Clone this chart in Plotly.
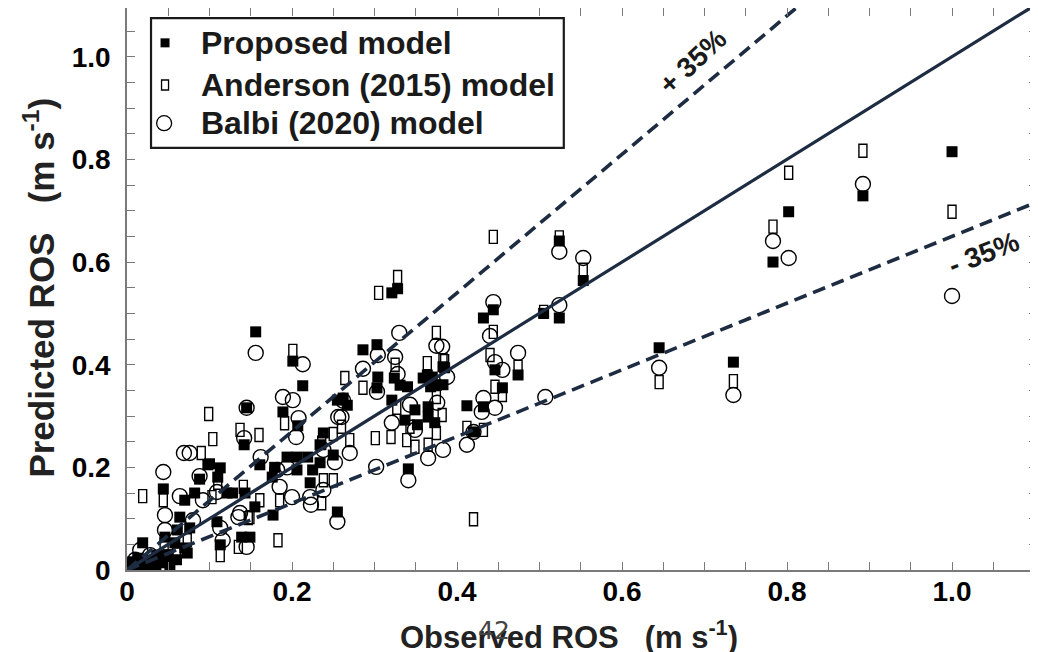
import plotly.graph_objects as go

# ---------------- data ----------------
proposed_obs = [1.000, 0.892, 0.802, 0.783, 0.735, 0.645, 0.524, 0.553, 0.524, 0.505,
                0.444, 0.432, 0.474, 0.446, 0.455, 0.412, 0.432, 0.383, 0.383, 0.420,
                0.328, 0.321, 0.303, 0.286, 0.385, 0.364, 0.304, 0.303, 0.324, 0.331,
                0.340, 0.375, 0.368, 0.359, 0.370, 0.321, 0.349, 0.365, 0.365, 0.337,
                0.352, 0.373, 0.262, 0.267, 0.250, 0.341, 0.156, 0.201, 0.213, 0.189,
                0.207, 0.145, 0.142, 0.161, 0.100, 0.113, 0.088, 0.110, 0.194, 0.206,
                0.219, 0.238, 0.234, 0.255, 0.179, 0.206, 0.176, 0.225, 0.222, 0.234,
                0.128, 0.143, 0.082, 0.177, 0.255, 0.044, 0.070, 0.098, 0.046, 0.064,
                0.076, 0.061, 0.058, 0.073, 0.070, 0.019, 0.007, 0.013, 0.030, 0.036,
                0.042, 0.052, 0.025, 0.113, 0.139, 0.149, 0.109, 0.121, 0.155, 0.004,
                0.015, 0.035, 0.050, 0.060]
proposed_pred = [0.815, 0.729, 0.698, 0.600, 0.405, 0.433, 0.641, 0.564, 0.491, 0.500,
                 0.507, 0.491, 0.380, 0.390, 0.355, 0.320, 0.318, 0.396, 0.361, 0.269,
                 0.548, 0.540, 0.439, 0.429, 0.394, 0.380, 0.376, 0.355, 0.374, 0.360,
                 0.357, 0.360, 0.357, 0.374, 0.376, 0.331, 0.312, 0.318, 0.298, 0.292,
                 0.283, 0.287, 0.335, 0.321, 0.224, 0.197, 0.464, 0.407, 0.359, 0.308,
                 0.281, 0.316, 0.244, 0.205, 0.207, 0.199, 0.177, 0.181, 0.220, 0.220,
                 0.220, 0.267, 0.244, 0.331, 0.200, 0.195, 0.181, 0.195, 0.170, 0.209,
                 0.150, 0.150, 0.150, 0.107, 0.113, 0.158, 0.136, 0.205, 0.064, 0.103,
                 0.082, 0.078, 0.053, 0.033, 0.043, 0.053, 0.016, 0.023, 0.019, 0.029,
                 0.014, 0.010, 0.010, 0.049, 0.064, 0.064, 0.094, 0.150, 0.123, 0.005,
                 0.004, 0.006, 0.030, 0.020]

anderson_obs = [1.000, 0.892, 0.802, 0.783, 0.735, 0.645, 0.553, 0.505, 0.524, 0.444,
                0.444, 0.474, 0.440, 0.446, 0.455, 0.412, 0.432, 0.383, 0.420, 0.328,
                0.305, 0.375, 0.325, 0.364, 0.385, 0.264, 0.286, 0.375, 0.327, 0.382,
                0.343, 0.375, 0.301, 0.320, 0.339, 0.349, 0.365, 0.260, 0.270, 0.250,
                0.201, 0.191, 0.099, 0.137, 0.160, 0.104, 0.090, 0.238, 0.250, 0.185,
                0.161, 0.149, 0.236, 0.236, 0.019, 0.044, 0.073, 0.048, 0.113, 0.135,
                0.147, 0.103, 0.141, 0.183, 0.110, 0.010, 0.030, 0.060, 0.045]
anderson_pred = [0.698, 0.817, 0.774, 0.669, 0.368, 0.366, 0.585, 0.503, 0.648, 0.649,
                 0.464, 0.396, 0.419, 0.357, 0.341, 0.277, 0.273, 0.409, 0.099, 0.571,
                 0.540, 0.462, 0.400, 0.403, 0.407, 0.374, 0.355, 0.337, 0.316, 0.302,
                 0.279, 0.267, 0.257, 0.259, 0.253, 0.240, 0.244, 0.279, 0.253, 0.265,
                 0.427, 0.286, 0.304, 0.273, 0.263, 0.255, 0.228, 0.175, 0.175, 0.136,
                 0.136, 0.103, 0.130, 0.248, 0.144, 0.136, 0.058, 0.025, 0.029, 0.045,
                 0.101, 0.142, 0.162, 0.058, 0.170, 0.008, 0.012, 0.030, 0.050]

balbi_obs = [1.000, 0.892, 0.802, 0.783, 0.735, 0.645, 0.524, 0.553, 0.524, 0.507,
             0.444, 0.440, 0.474, 0.446, 0.455, 0.432, 0.430, 0.446, 0.420, 0.412,
             0.382, 0.388, 0.375, 0.330, 0.304, 0.325, 0.286, 0.328, 0.303, 0.376,
             0.343, 0.365, 0.383, 0.270, 0.262, 0.260, 0.252, 0.302, 0.341, 0.321,
             0.349, 0.156, 0.213, 0.189, 0.201, 0.208, 0.205, 0.145, 0.142, 0.076,
             0.162, 0.088, 0.256, 0.182, 0.222, 0.238, 0.185, 0.200, 0.137, 0.223,
             0.255, 0.069, 0.044, 0.064, 0.046, 0.046, 0.080, 0.016, 0.028, 0.019,
             0.116, 0.145, 0.135, 0.113, 0.092, 0.109, 0.194, 0.238, 0.004, 0.010]
balbi_pred = [0.534, 0.752, 0.608, 0.641, 0.341, 0.394, 0.620, 0.608, 0.516, 0.337,
              0.522, 0.456, 0.423, 0.405, 0.390, 0.335, 0.308, 0.316, 0.269, 0.244,
              0.435, 0.376, 0.437, 0.462, 0.419, 0.415, 0.392, 0.382, 0.347, 0.326,
              0.322, 0.218, 0.234, 0.228, 0.330, 0.298, 0.210, 0.201, 0.175, 0.287,
              0.273, 0.423, 0.401, 0.337, 0.331, 0.296, 0.259, 0.316, 0.257, 0.228,
              0.220, 0.183, 0.298, 0.195, 0.142, 0.156, 0.162, 0.142, 0.111, 0.127,
              0.094, 0.228, 0.191, 0.144, 0.107, 0.078, 0.097, 0.039, 0.029, 0.008,
              0.058, 0.045, 0.103, 0.082, 0.136, 0.152, 0.200, 0.234, 0.004, 0.020]

series_names = ["Proposed model", "Anderson (2015) model", "Balbi (2020) model"]
ref_factors = [1.0, 1.35, 0.65]          # 1:1, +35 %, -35 %
ref_labels = ["+ 35%", "- 35%"]
x_title = "Observed ROS\u00a0\u00a0\u00a0(m s<sup>-1</sup>)"
y_title = "Predicted ROS\u00a0\u00a0\u00a0(m s<sup>-1</sup>)"
major_vals = [0.0, 0.2, 0.4, 0.6, 0.8, 1.0]
major_text = ["0", "0.2", "0.4", "0.6", "0.8", "1.0"]
x_max = 1.103
y_max = 1.095

# ---------------- styling ----------------
FONT = "Liberation Sans, Arial, sans-serif"
LINE_COL = "#1e2c42"
FRAME_COL = "#7a7a7a"

fig = go.Figure()

# Anderson markers: tall open rectangles drawn as pixel-sized shapes anchored on data
shapes = []
for xo, yp in zip(anderson_obs, anderson_pred):
    shapes.append(dict(type="rect", xref="x", yref="y",
                       xsizemode="pixel", ysizemode="pixel",
                       xanchor=xo, yanchor=yp, x0=-4, x1=4, y0=-6.5, y1=6.5,
                       line=dict(color="black", width=1.4),
                       fillcolor="rgba(0,0,0,0)", layer="below"))
fig.add_trace(go.Scatter(x=anderson_obs, y=anderson_pred, mode="markers",
                         name=series_names[1], showlegend=False,
                         marker=dict(size=9, opacity=0)))

fig.add_trace(go.Scatter(x=proposed_obs, y=proposed_pred, mode="markers",
                         name=series_names[0], showlegend=False,
                         marker=dict(symbol="square", size=11, color="black",
                                     line=dict(width=0))))
fig.add_trace(go.Scatter(x=balbi_obs, y=balbi_pred, mode="markers",
                         name=series_names[2], showlegend=False,
                         marker=dict(symbol="circle-open", size=15, color="black",
                                     line=dict(width=1.4, color="black"))))

# reference lines
for f in ref_factors:
    xe = min(x_max, y_max / f)
    fig.add_trace(go.Scatter(x=[0, xe], y=[0, xe * f], mode="lines", showlegend=False,
                             hoverinfo="skip", cliponaxis=True,
                             line=dict(color=LINE_COL, width=3.2 if f == 1.0 else 3.6,
                                       dash="solid" if f == 1.0 else "13px,7px")))

# custom legend (paper coords; plot area spans 910 x 562 px)
leg_x0, leg_x1, leg_y0, leg_y1 = 0.0264, 0.480, 0.751, 0.982
shapes.append(dict(type="rect", xref="paper", yref="paper", x0=leg_x0, x1=leg_x1,
                   y0=leg_y0, y1=leg_y1, line=dict(color="#1a1a1a", width=2.2),
                   fillcolor="white", layer="above"))
leg_rows = [0.938, 0.863, 0.795]
mk_x = 0.0418
shapes.append(dict(type="rect", xref="paper", yref="paper", xsizemode="pixel",
                   ysizemode="pixel", xanchor=mk_x, yanchor=leg_rows[0],
                   x0=-4.5, x1=4.5, y0=-4.5, y1=4.5, line=dict(width=0),
                   fillcolor="black", layer="above"))
shapes.append(dict(type="rect", xref="paper", yref="paper", xsizemode="pixel",
                   ysizemode="pixel", xanchor=mk_x, yanchor=leg_rows[1],
                   x0=-3.5, x1=3.5, y0=-5, y1=5, line=dict(color="black", width=1.3),
                   fillcolor="white", layer="above"))
shapes.append(dict(type="circle", xref="paper", yref="paper", xsizemode="pixel",
                   ysizemode="pixel", xanchor=mk_x - 0.001, yanchor=leg_rows[2],
                   x0=-7.5, x1=7.5, y0=-7.5, y1=7.5, line=dict(color="black", width=1.3),
                   fillcolor="white", layer="above"))

annotations = []
for name, yr in zip(series_names, leg_rows):
    annotations.append(dict(xref="paper", yref="paper", x=0.079, y=yr, text=name,
                            showarrow=False, xanchor="left", yanchor="middle",
                            font=dict(family=FONT, size=32, color="#1a1a1a",
                                      weight="bold")))

# +/- 35 % labels
annotations.append(dict(xref="paper", yref="paper", x=0.622, y=0.904, text=ref_labels[0],
                        showarrow=False, textangle=-43, xanchor="center",
                        yanchor="middle",
                        font=dict(family=FONT, size=28, color="#1a1a1a", weight="bold")))
annotations.append(dict(xref="paper", yref="paper", x=0.941, y=0.564, text=ref_labels[1],
                        showarrow=False, textangle=-21, xanchor="center",
                        yanchor="middle",
                        font=dict(family=FONT, size=28, color="#1a1a1a", weight="bold")))

# axis titles as annotations for exact placement
annotations.append(dict(xref="paper", yref="paper", x=0.486, y=-0.116,
                        text=x_title, showarrow=False,
                        xanchor="center", yanchor="middle",
                        font=dict(family=FONT, size=31, color="#222222", weight="bold")))
annotations.append(dict(xref="paper", yref="paper", x=-0.097, y=0.502,
                        text=y_title, showarrow=False,
                        textangle=-90, xanchor="center", yanchor="middle",
                        font=dict(family=FONT, size=35, color="#222222", weight="bold")))
# stray glyphs overlapping the x title in the reference
annotations.append(dict(xref="paper", yref="paper", x=0.403, y=-0.107, text="42",
                        showarrow=False, xanchor="center", yanchor="middle",
                        font=dict(family="DejaVu Sans, sans-serif", size=25,
                                  color="#444444", weight="normal")))

axis_common = dict(showgrid=False, zeroline=False, automargin=False,
                   showline=True, linecolor=FRAME_COL, linewidth=1.5, mirror="ticks",
                   ticks="inside", ticklen=8, tickwidth=1.2, tickcolor=FRAME_COL,
                   tickmode="array", tickvals=major_vals, ticktext=major_text,
                   minor=dict(ticks="inside", dtick=0.05, tick0=0, ticklen=8,
                              tickwidth=1.2, tickcolor=FRAME_COL),
                   tickfont=dict(family=FONT, size=28, color="black", weight="bold"))

# the page adds an 8 px body margin, so the figure is sized 8 px smaller
fig.update_layout(
    width=1030, height=644,
    margin=dict(l=119, r=1, t=0, b=82),
    paper_bgcolor="white", plot_bgcolor="white",
    showlegend=False,
    xaxis=dict(**axis_common, range=[0, x_max], ticklabelstandoff=-4),
    yaxis=dict(**axis_common, range=[0, y_max], ticklabelstandoff=9),
    shapes=shapes,
    annotations=annotations,
)

fig.write_html("out.html")
